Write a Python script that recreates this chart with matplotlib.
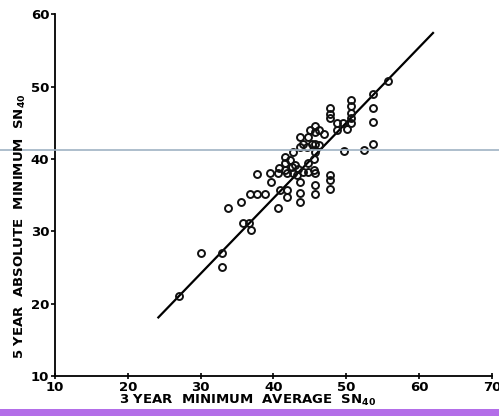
import matplotlib
matplotlib.use("Agg")
import matplotlib.pyplot as plt
from matplotlib.lines import Line2D
from matplotlib.patches import Rectangle

# 3 year minimum average SN40 (x) vs 5 year absolute minimum SN40 (y)
sn_3yr = [27.0, 30.0, 33.0, 33.0, 33.8, 35.8, 36.6, 36.9, 35.6, 36.8,
          37.7, 38.8, 37.7, 39.5, 40.6, 41.9, 39.6, 40.6, 40.9, 41.8,
          41.8, 42.7, 43.3, 43.7, 43.7, 43.7, 45.7, 45.7, 47.8, 47.8,
          47.8, 40.7, 41.6, 42.5, 41.6, 42.3, 41.6, 43.0, 43.4, 44.1,
          44.8, 44.8, 45.5, 45.7, 45.5, 45.7, 42.7, 43.7, 44.1, 45.3,
          45.7, 43.7, 44.8, 45.7, 46.9, 45.7, 44.6, 46.2, 45.0, 46.2,
          47.7, 47.7, 47.7, 48.7, 49.6, 48.7, 50.1, 50.7, 50.7, 50.7,
          50.7, 50.7, 53.7, 53.7, 53.7, 53.7, 52.4, 49.7, 55.7]
sn_5yr = [21.0, 27.0, 27.0, 25.0, 33.2, 31.1, 31.1, 30.2, 34.1, 35.2,
          35.2, 35.2, 37.9, 38.0, 38.0, 38.0, 36.8, 33.2, 35.7, 35.7,
          34.8, 38.0, 37.8, 36.8, 35.3, 34.1, 36.4, 35.2, 37.8, 37.1,
          35.9, 38.7, 38.5, 38.9, 39.4, 39.8, 40.3, 39.1, 38.6, 38.2,
          38.2, 39.4, 38.5, 38.0, 40.0, 41.0, 41.0, 41.7, 42.1, 42.1,
          42.1, 43.0, 43.0, 43.7, 43.5, 44.5, 41.7, 41.9, 44.0, 44.0,
          47.1, 46.2, 45.6, 44.9, 44.9, 44.0, 44.2, 48.2, 47.3, 46.4,
          45.6, 45.0, 49.0, 47.0, 45.1, 42.0, 41.2, 41.1, 50.7]

# fitted line end points
fit_x = [24.2, 61.9]
fit_y = [18.1, 57.4]

xticks = [10, 20, 30, 40, 50, 60, 70]
yticks = [10, 20, 30, 40, 50, 60]

fig = plt.figure(figsize=(4.99, 4.16), dpi=100)
ax = fig.add_axes([0.110, 0.096, 0.876, 0.870])

ax.plot(fit_x, fit_y, color="black", lw=1.6)
ax.plot(sn_3yr, sn_5yr, "o", mfc="none", mec="#111111", mew=1.4, ms=5)

ax.set_xlim(10, 70)
ax.set_ylim(10, 60)
ax.set_xticks(xticks)
ax.set_yticks(yticks)
for s in ["top", "right"]:
    ax.spines[s].set_visible(False)
for s in ["left", "bottom"]:
    ax.spines[s].set_linewidth(1.3)
ax.tick_params(axis="x", direction="inout", length=5, width=1.2, labelsize=9.5, pad=1)
ax.tick_params(axis="y", direction="out", length=3, width=1.2, labelsize=9.5, pad=1)
for lab in ax.get_xticklabels() + ax.get_yticklabels():
    lab.set_fontweight("bold")

fig.text(0.497, 0.02, r"3 YEAR  MINIMUM  AVERAGE  SN$_\mathbf{40}$",
         fontsize=9.5, fontweight="bold", ha="center", va="bottom")
fig.text(0.04, 0.455, r"5 YEAR  ABSOLUTE  MINIMUM  SN$_\mathbf{40}$",
         fontsize=9.5, fontweight="bold", ha="center", va="center", rotation=90)

# scan artefacts: faint horizontal rule and coloured strip at the bottom
fig.add_artist(Line2D([0, 1], [0.64, 0.64], transform=fig.transFigure,
                      color="#9fb3c4", lw=1.2))
fig.add_artist(Rectangle((0, 0), 1, 0.017, transform=fig.transFigure,
                         color="#b36ee8", lw=0))

fig.savefig("out.png", dpi=100)
